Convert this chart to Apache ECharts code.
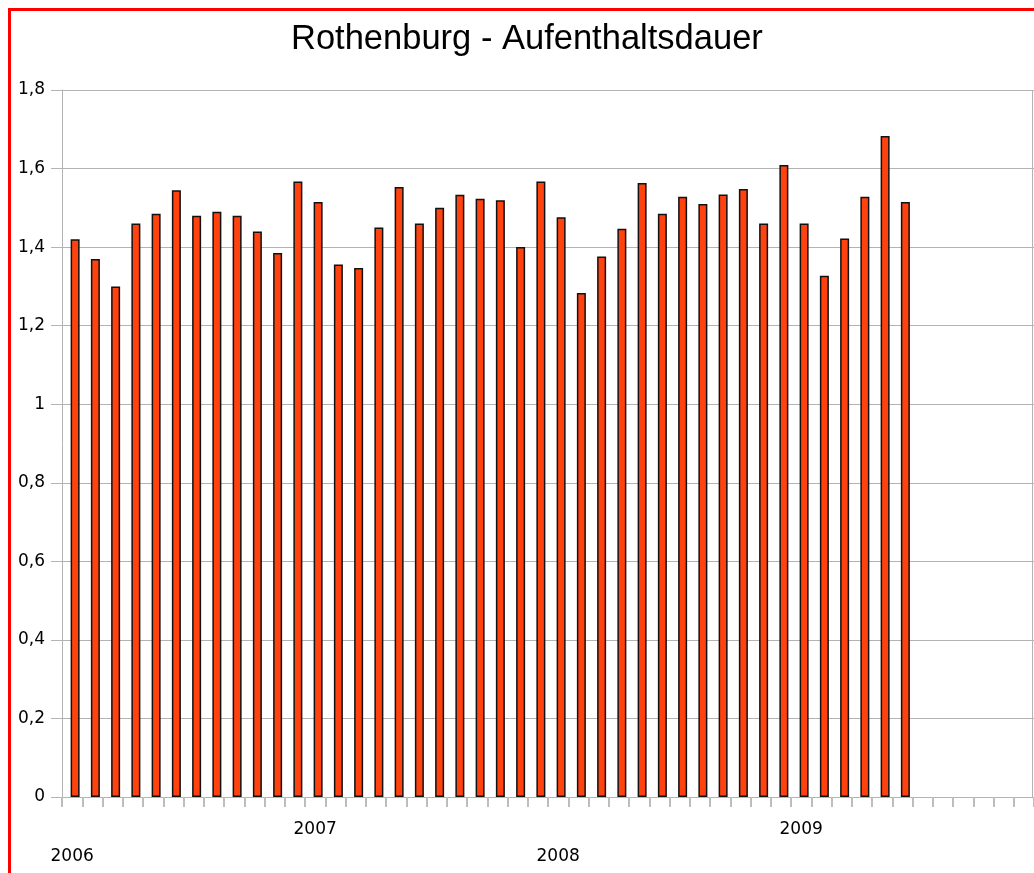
<!DOCTYPE html>
<html>
<head>
<meta charset="utf-8">
<script src="https://cdn.jsdelivr.net/npm/echarts@6/dist/echarts.min.js"></script>
<style>
  html, body { margin: 0; padding: 0; background: #fff; }
  #frame {
    position: absolute; left: 8px; top: 8px; width: 1026px; height: 865px;
    border-top: 3px solid #ff0000; border-left: 3px solid #ff0000;
  }
  #chart { position: absolute; left: 0; top: 0; width: 1034px; height: 873px; }
</style>
</head>
<body>
<div id="frame"></div>
<div id="chart"></div>
<script>
// Jahre und Monate der Kategorieachse (2006-2009)
const years = ['2006', '2007', '2008', '2009'];
const months = ['01', '02', '03', '04', '05', '06', '07', '08', '09', '10', '11', '12'];
const categories = [];
years.forEach(y => months.forEach(m => categories.push(y + '-' + m)));

// Aufenthaltsdauer pro Monat (Jan 2006 - Jun 2009)
const values = [
  1.42, 1.37, 1.30, 1.46, 1.485, 1.545, 1.48, 1.49, 1.48, 1.44, 1.385, 1.567,
  1.515, 1.356, 1.347, 1.45, 1.553, 1.46, 1.50, 1.533, 1.523, 1.519, 1.40, 1.567,
  1.476, 1.283, 1.376, 1.447, 1.563, 1.485, 1.528, 1.51, 1.534, 1.548, 1.46, 1.609,
  1.46, 1.327, 1.422, 1.528, 1.683, 1.515
];

const yTicks = [0, 0.2, 0.4, 0.6, 0.8, 1, 1.2, 1.4, 1.6, 1.8];

const chart = echarts.init(document.getElementById('chart'));

const option = {
  backgroundColor: 'transparent',
  animation: false,
  title: {
    text: 'Rothenburg - Aufenthaltsdauer',
    left: 286,
    top: 17,
    textStyle: {
      fontFamily: 'Liberation Sans',
      fontWeight: 'normal',
      fontSize: 34.5,
      color: '#000'
    }
  },
  grid: {
    left: 62,
    right: -2,
    top: 90,
    bottom: 76
  },
  // rechte Begrenzung der Zeichenfläche
  graphic: [
    {
      type: 'rect',
      right: 1,
      top: 90,
      shape: { width: 1, height: 707 },
      style: { fill: '#b3b3b3' }
    }
  ],
  xAxis: {
    type: 'category',
    data: categories,
    boundaryGap: true,
    axisLine: { show: true, lineStyle: { color: '#b3b3b3', width: 1 } },
    axisTick: {
      show: true,
      interval: 0,
      length: 10,
      lineStyle: { color: '#bdbdbd', width: 2 }
    },
    axisLabel: {
      interval: 11,
      margin: 19,
      fontFamily: 'DejaVu Sans',
      fontSize: 17,
      color: '#000',
      lineHeight: 27,
      formatter: function (val) {
        const y = val.slice(0, 4);
        // versetzte Jahresbeschriftung
        return years.indexOf(y) % 2 === 0 ? '\n' + y : y;
      }
    }
  },
  yAxis: {
    type: 'value',
    min: yTicks[0],
    max: yTicks[yTicks.length - 1],
    interval: 0.2,
    axisLine: { show: true, lineStyle: { color: '#b3b3b3', width: 1 } },
    axisTick: { show: true, length: 11, lineStyle: { color: '#b3b3b3', width: 1 } },
    splitLine: { lineStyle: { color: '#b3b3b3', width: 1 } },
    axisLabel: {
      margin: 17,
      fontFamily: 'DejaVu Sans',
      fontSize: 17,
      color: '#000',
      formatter: function (v) {
        return String(Math.round(v * 10) / 10).replace('.', ',');
      }
    }
  },
  series: [
    {
      // leerer Platzhalter, schiebt die Säulen leicht nach rechts
      type: 'bar',
      data: [],
      barWidth: 6,
      barGap: '0%',
      silent: true
    },
    {
      type: 'bar',
      data: values,
      barWidth: 9,
      barGap: '0%',
      itemStyle: {
        color: '#ff420e',
        borderColor: '#111',
        borderWidth: 1.5
      }
    }
  ]
};

option && chart.setOption(option);
</script>
</body>
</html>
